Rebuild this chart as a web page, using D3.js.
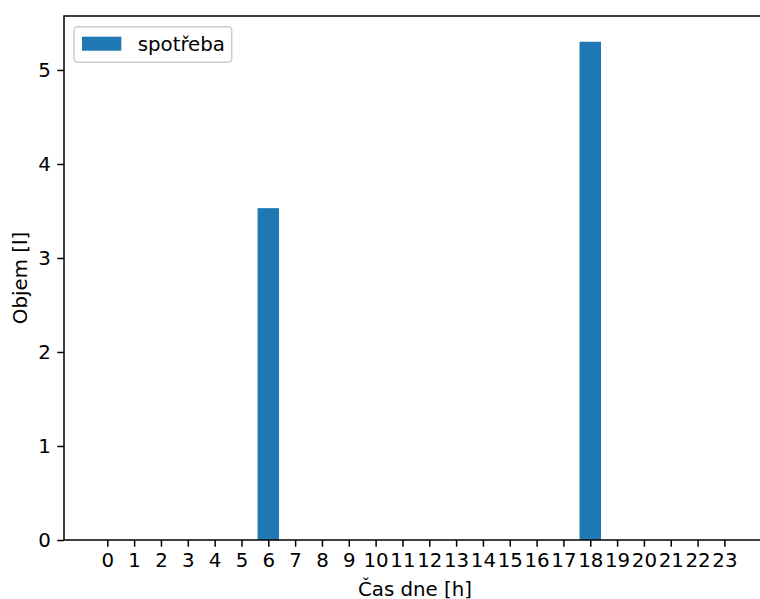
<!DOCTYPE html>
<html><head><meta charset="utf-8">
<script src="https://cdn.jsdelivr.net/npm/d3@7"></script>
<style>body{margin:0;background:#fff}svg{display:block;font-family:"DejaVu Sans",sans-serif}</style>
</head><body>
<svg id="c" width="760" height="599"></svg>
<script>
const hours = d3.range(0, 24);
const values = [0,0,0,0,0,0,3.53,0,0,0,0,0,0,0,0,0,0,0,5.30,0,0,0,0,0];
const yTicks = [0,1,2,3,4,5];
const seriesName = "spotřeba";
const xLabel = "Čas dne [h]";
const yLabel = "Objem [l]";

const svg = d3.select("#c");
const L = 64, R = 766, T = 16, B = 540;
const x = d3.scaleLinear().domain([-1.614, 24.55]).range([L, R]);
const y = d3.scaleLinear().domain([0, 5.574]).range([B, T]);
const bw = 0.8;
const color = "#1f77b4";
const fs = 19.8;

svg.append("g").selectAll("rect").data(hours).join("rect")
  .attr("x", d => x(d - bw/2))
  .attr("width", d => x(d + bw/2) - x(d - bw/2))
  .attr("y", (d,i) => y(values[i]))
  .attr("height", (d,i) => y(0) - y(values[i]))
  .attr("fill", color);

const xa = svg.append("g").attr("transform", `translate(0,${B})`)
  .call(d3.axisBottom(x).tickValues(hours).tickFormat(d3.format("d")).tickSize(6.7).tickPadding(6.5));
const ya = svg.append("g").attr("transform", `translate(${L},0)`)
  .call(d3.axisLeft(y).tickValues(yTicks).tickFormat(d3.format("d")).tickSize(6.7).tickPadding(6.5));
[xa, ya].forEach(a => {
  a.select(".domain").remove();
  a.selectAll("line").attr("stroke", "#000").attr("stroke-width", 1.5);
  a.selectAll("text").attr("fill", "#000").attr("font-size", fs).attr("font-family", "DejaVu Sans");
});

svg.append("rect").attr("x", L).attr("y", T).attr("width", R - L).attr("height", B - T)
  .attr("fill", "none").attr("stroke", "#000").attr("stroke-width", 1.5);

svg.append("text").attr("x", (L + R) / 2).attr("y", 596).attr("text-anchor", "middle")
  .attr("font-size", fs).text(xLabel);
svg.append("text").attr("transform", `translate(27,${(T + B) / 2}) rotate(-90)`).attr("text-anchor", "middle")
  .attr("font-size", fs).text(yLabel);

const lg = svg.append("g");
lg.append("rect").attr("x", 74).attr("y", 26.7).attr("width", 157.7).attr("height", 35.6)
  .attr("rx", 3.5).attr("fill", "#fff").attr("fill-opacity", 0.8).attr("stroke", "#cccccc").attr("stroke-width", 1.5);
lg.append("rect").attr("x", 82).attr("y", 36.7).attr("width", 39.3).attr("height", 14).attr("fill", color);
lg.append("text").attr("x", 137.7).attr("y", 51).attr("font-size", fs).text(seriesName);
</script>
</body></html>
